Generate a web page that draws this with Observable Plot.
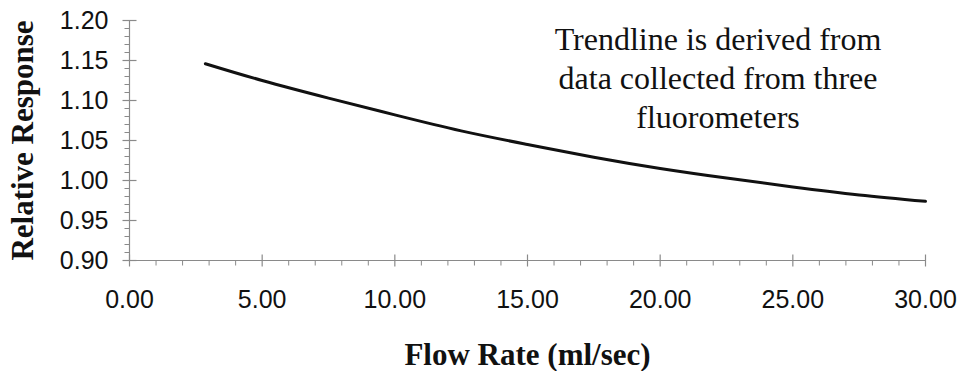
<!DOCTYPE html>
<html>
<head>
<meta charset="utf-8">
<script src="https://cdn.jsdelivr.net/npm/d3@7"></script>
<script src="https://cdn.jsdelivr.net/npm/@observablehq/plot@0.6"></script>
<style>
  html, body { margin: 0; padding: 0; background: #fff; }
</style>
</head>
<body>
<div id="chart"></div>
<script>
// Data
const flowRate = [2.86, 5, 7.5, 10, 12.5, 15, 17.5, 20, 22.5, 25, 27.5, 30];
const relResponse = [1.146, 1.125, 1.103, 1.082, 1.062, 1.045, 1.029, 1.015, 1.003, 0.992, 0.982, 0.974];
const xMajorTicks = [0, 5, 10, 15, 20, 25, 30];
const xMinorTicks = [1,2,3,4,6,7,8,9,11,12,13,14,16,17,18,19,21,22,23,24,26,27,28,29];
const yMajorTicks = [0.90, 0.95, 1.00, 1.05, 1.10, 1.15, 1.20];
const yMinorTicks = [0.91,0.92,0.93,0.94,0.96,0.97,0.98,0.99,1.01,1.02,1.03,1.04,1.06,1.07,1.08,1.09,1.11,1.12,1.13,1.14,1.16,1.17,1.18,1.19];
const xTitle = "Flow Rate (ml/sec)";
const yTitle = "Relative Response";
const note = "Trendline is derived from\ndata collected from three\nfluorometers";

const data = flowRate.map((x, i) => ({x, y: relResponse[i]}));

// line symbols (length given by r)
const vCross = {draw(ctx, size) { const r = Math.sqrt(size / Math.PI); ctx.moveTo(0, -r); ctx.lineTo(0, r); }};
const vDown = {draw(ctx, size) { const r = Math.sqrt(size / Math.PI); ctx.moveTo(0, 0); ctx.lineTo(0, r); }};
const hCross = {draw(ctx, size) { const r = Math.sqrt(size / Math.PI); ctx.moveTo(-r, 0); ctx.lineTo(r, 0); }};
const hLeft = {draw(ctx, size) { const r = Math.sqrt(size / Math.PI); ctx.moveTo(-r, 0); ctx.lineTo(0, 0); }};

const axisColor = "#8a8a8a";
const fmt = d3.format(".2f");
const serif = "'Liberation Serif', 'Times New Roman', serif";

const chart = Plot.plot({
  width: 960,
  height: 371,
  marginLeft: 129,
  marginRight: 35,
  marginTop: 20,
  marginBottom: 111,
  style: {fontFamily: "'Liberation Sans', Arial, sans-serif", fontSize: "25px", color: "#111", background: "#fff"},
  x: {domain: [0, 30]},
  y: {domain: [0.9, 1.2]},
  marks: [
    Plot.ruleY([0.9], {stroke: axisColor, strokeWidth: 1.2}),
    Plot.ruleX([0], {stroke: axisColor, strokeWidth: 1.2}),
    Plot.dot(xMajorTicks, {x: d => d, y: () => 0.9, symbol: vCross, r: 6, stroke: axisColor, fill: "none", strokeWidth: 1.2}),
    Plot.dot(xMinorTicks, {x: d => d, y: () => 0.9, symbol: vDown, r: 5, stroke: axisColor, fill: "none", strokeWidth: 1}),
    Plot.dot(yMajorTicks, {x: () => 0, y: d => d, symbol: hCross, r: 7, stroke: axisColor, fill: "none", strokeWidth: 1.2}),
    Plot.dot(yMinorTicks, {x: () => 0, y: d => d, symbol: hLeft, r: 5, stroke: axisColor, fill: "none", strokeWidth: 1}),
    Plot.axisX({ticks: xMajorTicks, tickSize: 0, tickPadding: 30, tickFormat: fmt, label: null, fontSize: 25, fill: "#111"}),
    Plot.axisY({ticks: yMajorTicks, tickSize: 0, tickPadding: 21, tickFormat: fmt, label: null, fontSize: 25, fill: "#111"}),
    Plot.line(data, {x: "x", y: "y", curve: "natural", stroke: "#111", strokeWidth: 3}),
    Plot.text([xTitle], {frameAnchor: "bottom", dy: 95, fontFamily: serif, fontWeight: "bold", fontSize: 31, fill: "#111", lineAnchor: "middle"}),
    Plot.text([yTitle], {frameAnchor: "left", dx: -106, rotate: -90, textAnchor: "middle", fontFamily: serif, fontWeight: "bold", fontSize: 31, fill: "#111", lineAnchor: "middle"}),
    Plot.text([note], {x: () => 22.18, y: () => 1.13, fontFamily: serif, fontSize: 32, lineHeight: 1.22, fill: "#111", textAnchor: "middle", lineAnchor: "middle"})
  ]
});
document.getElementById("chart").appendChild(chart);
</script>
</body>
</html>
